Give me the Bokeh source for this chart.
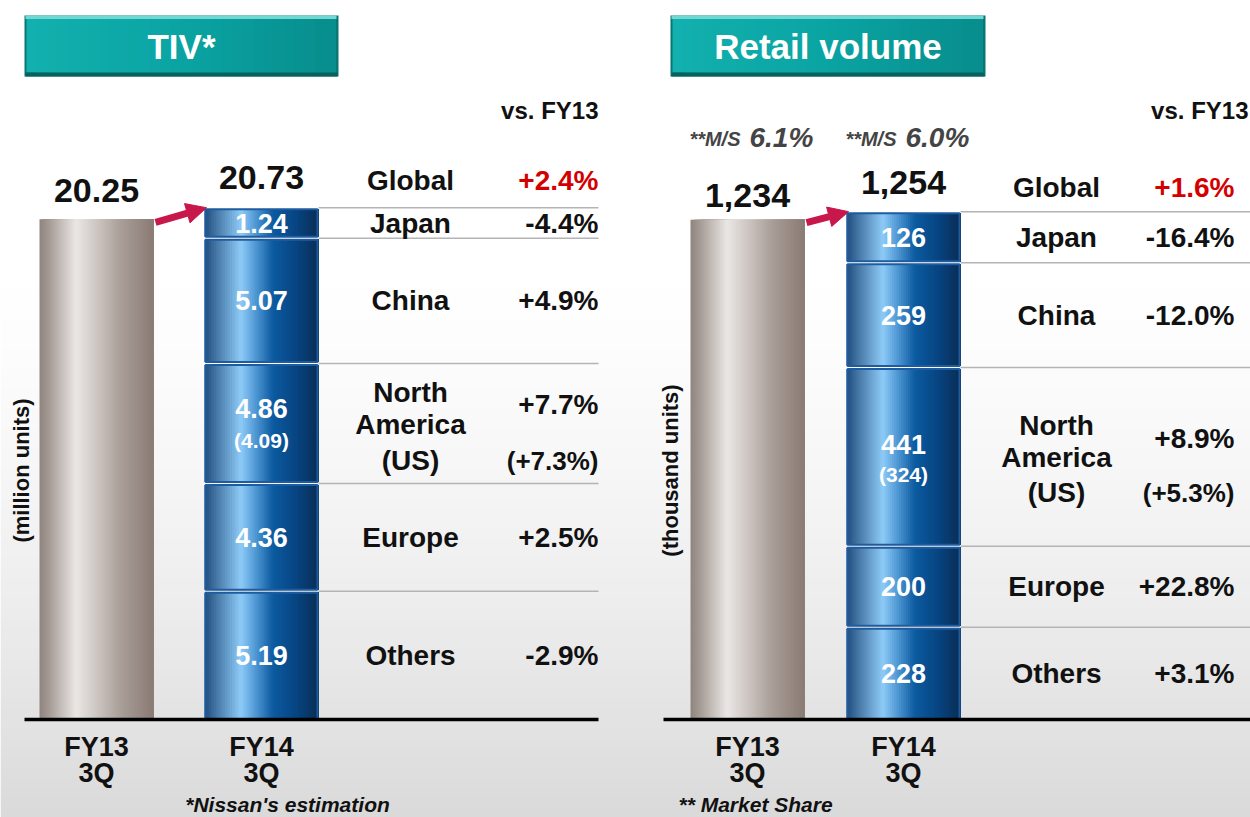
import numpy as np
from bokeh.plotting import figure
from bokeh.models import Range1d, ColumnDataSource, Arrow, NormalHead
from bokeh.core.properties import value
from bokeh.embed import file_html
from bokeh.resources import INLINE

# ---------------- data ----------------
periods = ["FY13 3Q", "FY14 3Q"]
regions = ["Japan", "China", "North America", "Europe", "Others"]

tiv_totals = [20.25, 20.73]
tiv_fy14 = [1.24, 5.07, 4.86, 4.36, 5.19]
tiv_us = 4.09
tiv_vs_global = "+2.4%"
tiv_vs = ["-4.4%", "+4.9%", "+7.7%", "+2.5%", "-2.9%"]
tiv_vs_us = "(+7.3%)"

ret_totals = [1234, 1254]
ret_fy14 = [126, 259, 441, 200, 228]
ret_us = 324
ret_vs_global = "+1.6%"
ret_vs = ["-16.4%", "-12.0%", "+8.9%", "+22.8%", "+3.1%"]
ret_vs_us = "(+5.3%)"
ret_share = ["6.1%", "6.0%"]

# ---------------- layout / style ----------------
FONT = "Liberation Sans"
W, H = 1250, 817
TOP, BOT, BASE = 0, 817, 719
K1 = 24.7     # px per million units
K2 = 0.405    # px per thousand units

p = figure(width=W, height=H, output_backend="svg", toolbar_location=None,
           x_range=Range1d(0, W),
           y_range=Range1d((BASE - BOT) / K1, (BASE - TOP) / K1),
           x_axis_type=None, y_axis_type=None, min_border=0)
p.extra_y_ranges = {"ret": Range1d((BASE - BOT) / K2, (BASE - TOP) / K2),
                    "px": Range1d(BOT, TOP)}
p.outline_line_color = None
p.background_fill_color = "white"
p.border_fill_color = "white"
p.grid.visible = False


def hex2rgb(h):
    h = h.lstrip("#")
    return [int(h[i:i + 2], 16) for i in (0, 2, 4)]


def lerp(stops, t):
    for (t0, c0), (t1, c1) in zip(stops[:-1], stops[1:]):
        if t <= t1:
            f = 0 if t1 == t0 else (t - t0) / (t1 - t0)
            a, b = hex2rgb(c0), hex2rgb(c1)
            return "#%02x%02x%02x" % tuple(int(round(a[i] + (b[i] - a[i]) * f)) for i in range(3))
    return stops[-1][1]


# background gradient (white -> light gray)
ys = np.linspace(TOP, BOT, 83)
bg_cols = []
for y in ys[:-1]:
    t = min(max((y - 250) / (BOT - 250), 0), 1)
    g = int(round(255 - 38 * t ** 1.5))
    bg_cols.append("#%02x%02x%02x" % (g, g, g))
p.quad(left=0, right=W, top=ys[:-1], bottom=ys[1:] + 0.8, fill_color=bg_cols,
       line_color=None, y_range_name="px")

GRAY = [(0, "#8f837d"), (0.1, "#aaa09b"), (0.32, "#ebe7e5"), (0.5, "#cdc6c2"),
        (0.72, "#a89d97"), (1.0, "#8a7b74")]
BLUE = [(0, "#1d4a7c"), (0.08, "#3d6d9c"), (0.32, "#8ecbf8"), (0.46, "#4a93d0"),
        (0.6, "#0b5aa0"), (0.8, "#074582"), (1.0, "#0a2d55")]
TEAL = [(0, "#12b0ae"), (0.5, "#0aa4a3"), (1, "#078d8c")]


def strips(left, right, n, stops):
    """Overlapping strips: strip i covers [left_i, right], later ones overlay earlier."""
    w = right - left
    lefts = [left + i * w / n for i in range(n)]
    cols = [lerp(stops, (i + 0.5) / n) for i in range(n)]
    return lefts, cols


def add_text(xs, ys, texts, size, color="#111111", align="center", style="bold",
             rng="default", y_offset=0, angle=0, baseline="middle"):
    src = ColumnDataSource(dict(x=list(xs), y=list(ys), t=list(texts)))
    p.text(x="x", y="y", text="t", source=src, text_font=value(FONT),
           text_font_size=f"{size}px", text_font_style=style, text_color=color,
           text_align=align, text_baseline=baseline, y_offset=y_offset, angle=angle,
           y_range_name=rng)


def gradient_bar(xc, bw, bottoms, tops, stops, rng, n=50):
    lefts, cols = strips(xc - bw / 2, xc + bw / 2, n, stops)
    d = dict(x=[], w=[], b=[], t=[], c=[])
    for b, tp in zip(bottoms, tops):
        for lf, c in zip(lefts, cols):
            d["x"].append((lf + xc + bw / 2) / 2)
            d["w"].append(xc + bw / 2 - lf)
            d["b"].append(b)
            d["t"].append(tp)
            d["c"].append(c)
    p.vbar(x="x", width="w", bottom="b", top="t", fill_color="c", line_color=None,
           source=ColumnDataSource(d), y_range_name=rng)


panels = [
    dict(rng="default", k=K1, totals=tiv_totals, segs=tiv_fy14, us=tiv_us,
         fmt=lambda v: f"{v:.2f}", vs_global=tiv_vs_global, vs=tiv_vs, vs_us=tiv_vs_us,
         bars=[96, 261], bw=114, reg_x=410, pct_x=598, vs_x=598, line_x1=598, base_x0=24,
         box=(24, 338), title="TIV*", unit="(million units)", unit_x=21,
         note="*Nissan's estimation", note_x=287, note_align="center",
         na_off=dict(reg=[-31, 1, 37], seg=[-15, 17], pct=[-19, 37]),
         glob_off=-27, tot_off=[-29, -30], share=None),
    dict(rng="ret", k=K2, totals=ret_totals, segs=ret_fy14, us=ret_us,
         fmt=lambda v: f"{int(round(v)):,}", vs_global=ret_vs_global, vs=ret_vs,
         vs_us=ret_vs_us,
         bars=[747, 903], bw=114, reg_x=1056, pct_x=1234, vs_x=1248, line_x1=1250,
         base_x0=663, box=(670, 985), title="Retail volume", unit="(thousand units)",
         unit_x=670, note="** Market Share", note_x=678, note_align="left",
         na_off=dict(reg=[-31, 1, 36], seg=[-12, 18], pct=[-18, 36]),
         glob_off=-24, tot_off=[-24, -29], share=ret_share),
]

for P in panels:
    rng, k = P["rng"], P["k"]
    x13, x14 = P["bars"]
    bw = P["bw"]
    segs = np.array(P["segs"], dtype=float)
    tops = segs[::-1].cumsum()[::-1]
    bottoms = tops - segs
    centers = (tops + bottoms) / 2
    g = 1.5 / k
    b_in = np.where(bottoms > 0, bottoms + g, bottoms)
    t_in = tops - g

    # title box
    l, r = P["box"]
    p.quad(left=l, right=r, top=15, bottom=76, fill_color="#0a7774", line_color=None,
           y_range_name="px")
    lefts, cols = strips(l + 2, r - 3, 30, TEAL)
    p.quad(left=lefts, right=r - 3, top=18, bottom=72, fill_color=cols, line_color=None,
           y_range_name="px")
    p.quad(left=l + 1, right=r - 2, top=15, bottom=18.5, fill_color="#72d6d3",
           line_color=None, y_range_name="px")
    p.quad(left=l + 1, right=r - 1, top=72, bottom=76, fill_color="#05625f",
           line_color=None, y_range_name="px")
    add_text([(l + r) / 2], [46], [P["title"]], 35, color="white", rng="px")

    # vs FY13 header
    add_text([P["vs_x"]], [110], ["vs. FY13"], 24, align="right", rng="px")

    # FY13 bar (gray gradient)
    gradient_bar(x13, bw, [0], [P["totals"][0]], GRAY, rng)

    # FY14 stacked bar (blue gradient)
    gradient_bar(x14, bw, b_in, t_in, BLUE, rng)
    p.quad(left=x14 - bw / 2 + 1, right=x14 + bw / 2 - 1, bottom=b_in, top=t_in,
           fill_color=None, line_color="#1f5c9f", line_width=2, y_range_name=rng)

    # separator lines at segment tops
    p.segment(x0=x14 + bw / 2, x1=P["line_x1"], y0=tops, y1=tops, line_color="#b4b4b4",
              line_width=1.5, y_range_name=rng)

    # baseline
    p.segment(x0=[P["base_x0"]], x1=[P["line_x1"]], y0=[0], y1=[0], line_color="black",
              line_width=3.5, y_range_name=rng)

    # arrow
    c = "#c8174a"
    p.add_layout(Arrow(end=NormalHead(size=20, fill_color=c, line_color=c),
                       x_start=x13 + bw / 2 + 2, y_start=P["totals"][0] - 3 / k,
                       x_end=x14 - bw / 2 + 2, y_end=tops[0],
                       line_color=c, line_width=7, y_range_name=rng))

    # totals
    add_text([x13], [P["totals"][0]], [P["fmt"](P["totals"][0])], 34, rng=rng,
             y_offset=P["tot_off"][0])
    add_text([x14], [tops[0]], [P["fmt"](P["totals"][1])], 34, rng=rng,
             y_offset=P["tot_off"][1])

    # segment values, region names and changes
    for i, name in enumerate(regions):
        cy = centers[i]
        if name == "North America":
            o = P["na_off"]
            add_text([x14], [cy], [P["fmt"](segs[i])], 27, color="white", rng=rng,
                     y_offset=o["seg"][0])
            add_text([x14], [cy], ["(" + P["fmt"](P["us"]) + ")"], 21, color="white",
                     rng=rng, y_offset=o["seg"][1])
            for s, oo in zip(["North", "America", "(US)"], o["reg"]):
                add_text([P["reg_x"]], [cy], [s], 28, rng=rng, y_offset=oo)
            add_text([P["pct_x"]], [cy], [P["vs"][i]], 28, align="right", rng=rng,
                     y_offset=o["pct"][0])
            add_text([P["pct_x"]], [cy], [P["vs_us"]], 26, align="right", rng=rng,
                     y_offset=o["pct"][1])
        else:
            add_text([x14], [cy], [P["fmt"](segs[i])], 27, color="white", rng=rng)
            add_text([P["reg_x"]], [cy], [name], 28, rng=rng)
            add_text([P["pct_x"]], [cy], [P["vs"][i]], 28, align="right", rng=rng)

    # Global row
    add_text([P["reg_x"]], [tops[0]], ["Global"], 28, rng=rng, y_offset=P["glob_off"])
    add_text([P["pct_x"]], [tops[0]], [P["vs_global"]], 28, color="#d40000",
             align="right", rng=rng, y_offset=P["glob_off"])

    # period labels
    for xx, per in zip([x13, x14], periods):
        a, b = per.split(" ")
        add_text([xx], [0], [a], 27, rng=rng, y_offset=27)
        add_text([xx], [0], [b], 27, rng=rng, y_offset=53)

    # unit label
    add_text([P["unit_x"]], [470], [P["unit"]], 22, rng="px", angle=np.pi / 2)

    # footnote
    add_text([P["note_x"]], [804], [P["note"]], 21, align=P["note_align"],
             style="bold italic", rng="px")

    # market share
    if P["share"]:
        for xx, s in zip([x13, x14], P["share"]):
            add_text([xx - 7], [138], ["**M/S"], 20, color="#444444", align="right",
                     style="bold italic", rng="px")
            add_text([xx + 2], [137], [s], 28, color="#444444", align="left",
                     style="bold italic", rng="px")

open("out.html", "w").write(file_html(p, INLINE))
